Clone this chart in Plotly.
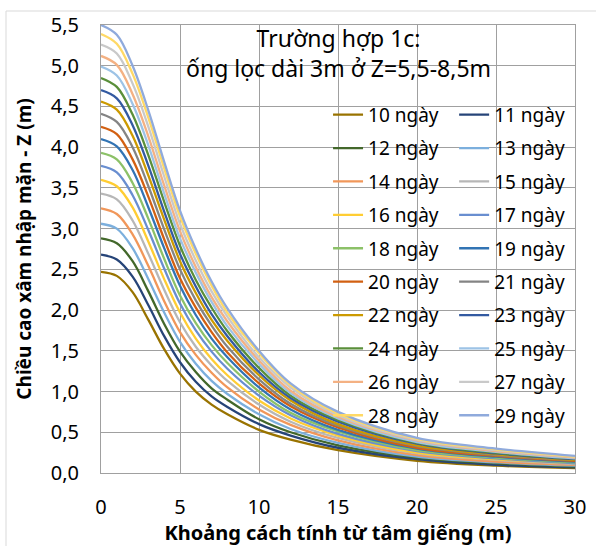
import plotly.graph_objects as go

# Distance from well centre (m)
x_m = [0, 1, 2, 3, 4, 5, 6, 7, 8, 10, 12, 15, 20, 25, 30]

# Saline intrusion height Z (m) per day
d10 = [2.47, 2.42, 2.22, 1.88, 1.52, 1.22, 1.00, 0.84, 0.72, 0.53, 0.41, 0.28, 0.15, 0.09, 0.06]
d11 = [2.68, 2.62, 2.41, 2.06, 1.68, 1.36, 1.12, 0.94, 0.81, 0.60, 0.46, 0.31, 0.17, 0.10, 0.07]
d12 = [2.88, 2.82, 2.60, 2.23, 1.83, 1.49, 1.24, 1.04, 0.90, 0.66, 0.50, 0.34, 0.19, 0.12, 0.08]
d13 = [3.06, 3.00, 2.76, 2.38, 1.97, 1.61, 1.34, 1.13, 0.97, 0.72, 0.54, 0.37, 0.20, 0.13, 0.09]
d14 = [3.25, 3.18, 2.93, 2.54, 2.11, 1.73, 1.45, 1.23, 1.05, 0.78, 0.59, 0.40, 0.22, 0.14, 0.10]
d15 = [3.43, 3.36, 3.10, 2.69, 2.25, 1.85, 1.55, 1.32, 1.13, 0.84, 0.63, 0.43, 0.24, 0.16, 0.11]
d16 = [3.60, 3.52, 3.26, 2.84, 2.38, 1.97, 1.65, 1.40, 1.20, 0.89, 0.67, 0.46, 0.25, 0.17, 0.12]
d17 = [3.77, 3.69, 3.41, 2.98, 2.51, 2.08, 1.75, 1.49, 1.28, 0.95, 0.71, 0.48, 0.27, 0.18, 0.12]
d18 = [3.93, 3.85, 3.56, 3.12, 2.63, 2.18, 1.84, 1.57, 1.35, 1.00, 0.74, 0.51, 0.28, 0.19, 0.13]
d19 = [4.10, 4.01, 3.72, 3.26, 2.76, 2.30, 1.94, 1.65, 1.42, 1.05, 0.78, 0.53, 0.30, 0.20, 0.14]
d20 = [4.25, 4.16, 3.85, 3.39, 2.87, 2.39, 2.03, 1.73, 1.48, 1.10, 0.82, 0.56, 0.31, 0.21, 0.15]
d21 = [4.41, 4.31, 4.00, 3.52, 2.99, 2.50, 2.12, 1.81, 1.55, 1.15, 0.85, 0.58, 0.33, 0.22, 0.16]
d22 = [4.56, 4.46, 4.14, 3.65, 3.11, 2.60, 2.21, 1.88, 1.62, 1.20, 0.89, 0.60, 0.34, 0.23, 0.16]
d23 = [4.70, 4.60, 4.27, 3.77, 3.21, 2.69, 2.29, 1.95, 1.68, 1.24, 0.92, 0.63, 0.36, 0.24, 0.17]
d24 = [4.85, 4.74, 4.40, 3.90, 3.33, 2.79, 2.37, 2.03, 1.74, 1.29, 0.95, 0.65, 0.37, 0.25, 0.18]
d25 = [4.99, 4.88, 4.53, 4.02, 3.43, 2.88, 2.46, 2.10, 1.80, 1.34, 0.98, 0.67, 0.38, 0.26, 0.18]
d26 = [5.12, 5.01, 4.65, 4.13, 3.53, 2.97, 2.53, 2.16, 1.86, 1.38, 1.01, 0.69, 0.40, 0.27, 0.19]
d27 = [5.26, 5.15, 4.78, 4.25, 3.64, 3.06, 2.61, 2.23, 1.92, 1.42, 1.05, 0.71, 0.41, 0.28, 0.20]
d28 = [5.39, 5.27, 4.90, 4.36, 3.74, 3.15, 2.69, 2.30, 1.97, 1.47, 1.08, 0.73, 0.42, 0.29, 0.20]
d29 = [5.50, 5.38, 5.00, 4.45, 3.82, 3.22, 2.75, 2.35, 2.02, 1.50, 1.10, 0.75, 0.43, 0.30, 0.21]

series_names = ["10 ngày", "11 ngày", "12 ngày", "13 ngày", "14 ngày", "15 ngày", "16 ngày",
                "17 ngày", "18 ngày", "19 ngày", "20 ngày", "21 ngày", "22 ngày", "23 ngày",
                "24 ngày", "25 ngày", "26 ngày", "27 ngày", "28 ngày", "29 ngày"]
series_values = [d10, d11, d12, d13, d14, d15, d16, d17, d18, d19,
                 d20, d21, d22, d23, d24, d25, d26, d27, d28, d29]
colors = ["#997300", "#264478", "#43682B", "#7CAFDD", "#F1975A", "#B7B7B7", "#FFCD33",
          "#698ED0", "#8CC168", "#3274B4", "#D26012", "#848484", "#CC9A00", "#335AA1",
          "#5A8F3A", "#9DC3E6", "#F4B183", "#C9C9C9", "#FFD966", "#8FAADC"]

x_ticks = [0, 5, 10, 15, 20, 25, 30]
x_ticktext = ["0", "5", "10", "15", "20", "25", "30"]
y_ticks = [0, 0.5, 1, 1.5, 2, 2.5, 3, 3.5, 4, 4.5, 5, 5.5]
y_ticktext = ["0,0", "0,5", "1,0", "1,5", "2,0", "2,5", "3,0", "3,5", "4,0", "4,5", "5,0", "5,5"]

FONT = "Noto Sans"
GRID = "#A0A0A0"

fig = go.Figure()
for i, (name, vals, col) in enumerate(zip(series_names, series_values, colors)):
    fig.add_trace(go.Scatter(
        x=x_m, y=vals, mode="lines", name=name,
        line=dict(color=col, width=2.3, shape="spline", smoothing=1.0),
        legend="legend" if i % 2 == 0 else "legend2",
        legendgroup=name,
    ))

leg_common = dict(
    bgcolor="rgba(0,0,0,0)", borderwidth=0,
    font=dict(family=FONT, size=19, color="#000000"),
    tracegroupgap=5.7, yanchor="top", xanchor="left",
    traceorder="grouped",
)

fig.update_layout(
    width=596, height=546,
    margin=dict(l=101, r=21, t=25, b=73, autoexpand=False),
    paper_bgcolor="white", plot_bgcolor="white",
    font=dict(family=FONT, size=19, color="#000000"),
    legend=dict(x=0.479, y=0.842, **leg_common),
    legend2=dict(x=0.745, y=0.842, **leg_common),
    xaxis=dict(
        range=[0, 30], tickvals=x_ticks, ticktext=x_ticktext,
        showgrid=True, gridcolor=GRID, gridwidth=1,
        showline=True, linecolor=GRID, linewidth=1, mirror=True,
        zeroline=False, ticks="", ticklabelstandoff=16, automargin=False,
        tickfont=dict(family=FONT, size=20),
        title=dict(text="<b>Khoảng cách tính từ tâm giếng (m)</b>",
                   font=dict(family=FONT, size=20), standoff=20),
    ),
    yaxis=dict(
        range=[0, 5.5], tickvals=y_ticks, ticktext=y_ticktext,
        showgrid=True, gridcolor=GRID, gridwidth=1,
        showline=True, linecolor=GRID, linewidth=1, mirror=True,
        zeroline=False, ticks="", ticklabelstandoff=17, automargin=False,
        tickfont=dict(family=FONT, size=20),
        title=dict(text="<b>Chiều cao xâm nhập mặn - Z (m)</b>",
                   font=dict(family=FONT, size=19), standoff=14),
    ),
    annotations=[dict(
        text="Trường hợp 1c:<br>ống lọc dài 3m ở Z=5,5-8,5m",
        xref="paper", yref="paper", x=0.5, y=1.012,
        xanchor="center", yanchor="top", showarrow=False,
        font=dict(family=FONT, size=23, color="#000000"),
    )],
    shapes=[dict(
        type="rect", xref="paper", yref="paper",
        x0=-0.2004, x1=1.06, y0=-0.18, y1=1.03125,
        line=dict(color="#D9D9D9", width=1), fillcolor="rgba(0,0,0,0)", layer="below",
    )],
)

fig.write_html("out.html")
